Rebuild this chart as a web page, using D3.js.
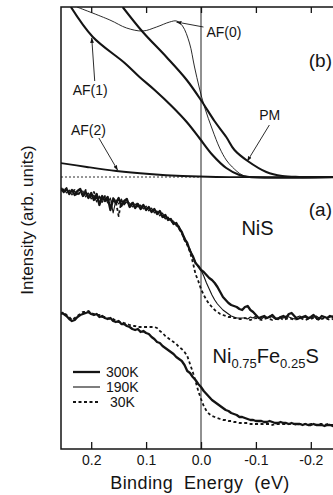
<!DOCTYPE html>
<html>
<head>
<meta charset="utf-8">
<script src="https://cdn.jsdelivr.net/npm/d3@7"></script>
<style>
  body { margin: 0; background: #fff; }
  svg { display: block; font-family: "Liberation Sans", Arial, Helvetica, sans-serif; }
</style>
</head>
<body>
<svg id="chart" width="333" height="495"></svg>
<script>
// energy grid of the measured spectra (eV), 0.255 .. -0.25 in 5 meV steps
const energy = d3.range(102).map(i => +(0.255 - 0.005 * i).toFixed(3));

// NiS spectra (a), arb. units
const nis300 = [261,257,260,255,259,254,258,260,253,257,251,256,249,255,244,253,248,252,239,250,
  246,251,243,248,250,242,246,241,245,240,244,239,242,237,240,235,238,232,234,229,
  230,225,226,221,217,210,206,198,193,186,183,
  179,177,174,171,169,166,162,157,152,149,146,144,143,142,140,139,142,143,139,137,
  134,131,132,133,131,132,134,131,130,132,133,131,135,136,133,130,131,132,133,131,
  132,134,131,130,133,132,131,133,132,131,132];
const nis190 = [258,260,256,259,254,258,255,257,258,252,256,250,254,247,253,249,252,246,251,236,
  249,245,250,244,247,246,242,245,242,244,240,243,238,241,236,238,233,236,230,232,
  228,228,223,223,216,212,204,200,192,187,182,
  179,173,166,160,154,149,145,142,139,137,135,133,132,131,131,131,131,130,132,131,
  133,131,130,132,131,133,132,130,131,132,131,133,132,131,130,132,133,131,132,130,
  131,132,133,131,130,132,131,132,133,131,132];
const nis30 = [260,258,261,256,258,259,253,257,254,259,252,253,257,250,252,247,253,249,243,251,
  247,233,248,245,249,243,247,243,246,241,243,240,241,238,239,236,237,233,231,231,
  228,226,225,220,216,209,204,197,187,175,168,
  160,154,149,145,142,139,137,135,134,133,132,132,131,131,130,130,131,130,129,130,
  131,130,129,130,131,130,129,130,130,131,129,130,131,130,129,130,131,130,129,130,
  130,131,130,129,130,131,130,129,130,131,130];

// Ni0.75Fe0.25S spectra (a)
const fes300 = [136,135,133,130,128,129,132,134,135,136,137,135,134,135,132,133,131,130,131,128,
  127,128,125,125,123,122,120,119,120,117,118,116,115,112,110,107,106,103,101,99,
  97,95,92,90,88,84,78,76,72,69,65,62,58,55,52,49,47,45,43,41,
  39,38,36,35,34,32,32,31,30,29,29,28,28,28,27,27,28,27,26,26,
  27,26,26,25,26,25,25,25,24,25,24,24,25,24,24,24,23,24,24,23,24,24];
const fes30 = [135,137,134,132,129,131,133,135,137,137,138,136,135,134,134,132,132,131,130,130,
  128,127,127,126,125,124,123,123,122,122,122,122,122,122,122,121,118,116,113,111,
  109,107,105,102,100,97,93,85,77,68,58,50,43,38,35,33,32,31,30,29,
  29,28,28,27,27,26,26,26,26,25,25,25,25,25,25,25,25,24,25,25,
  25,25,25,25,25,25,24,25,25,25,24,25,25,24,25,25,24,25,24,24,24,24];

// calculated spectra (b): [energy, intensity]
const af0 = [[0.226,442],[0.166,429],[0.1355,421],[0.106,418],[0.081,422],[0.057,427],[0.0445,428],
  [0.0336,423],[0.021,406],[0.0118,382],[0.003,361],[-0.0064,342],[-0.021,319],[-0.034,301],
  [-0.046,289],[-0.057,282],[-0.075,274],[-0.094,272],[-0.255,272]];
const af1 = [[0.237,442],[0.197,412],[0.139,386],[0.112,372],[0.0845,359],[0.0536,343],[0.026,327],
  [0.003,311],[-0.021,294],[-0.046,281],[-0.070,274],[-0.088,272],[-0.255,272]];
const af2 = [[0.2555,286],[0.208,282],[0.154,278],[0.094,275],[0.034,273],[-0.028,272],[-0.255,272]];
const pm = [[0.1427,442],[0.106,417],[0.063,392],[0.026,369],[-0.001,348],[-0.0245,328],[-0.046,312],
  [-0.061,299],[-0.085,288],[-0.119,277],[-0.148,273],[-0.179,272],[-0.255,272]];
const baselineB = 272;

const xTicks = [0.2, 0.1, 0.0, -0.1, -0.2];
const legendLabels = ['300K', '190K', '30K'];

const svg = d3.select('#chart');
const margin = {top: 7, left: 61, bottom: 46};
const height = +svg.attr('height');

const x = d3.scaleLinear().domain([0.255, -0.255]).range([61, 341]);
const y = d3.scaleLinear().domain([0, 442]).range([height - margin.bottom, margin.top]);

svg.append('rect').attr('width', 333).attr('height', 495).attr('fill', '#fff');

svg.append('clipPath').attr('id', 'plotclip')
  .append('rect').attr('x', x(0.255)).attr('y', y(442)).attr('width', x(-0.255) - x(0.255)).attr('height', y(0) - y(442));

const plot = svg.append('g').attr('clip-path', 'url(#plotclip)');

// zero line
plot.append('line')
  .attr('x1', x(0)).attr('x2', x(0)).attr('y1', y(0)).attr('y2', y(442))
  .attr('stroke', '#222').attr('stroke-width', 1);

const ink = '#141414';
const noisy = d3.line().x((d, i) => x(energy[i])).y(d => y(d));
const smooth = d3.line().x(d => x(d[0])).y(d => y(d[1])).curve(d3.curveCatmullRom.alpha(0.5));

// (b) baseline
plot.append('line')
  .attr('x1', x(0.255)).attr('x2', x(0)).attr('y1', y(baselineB)).attr('y2', y(baselineB))
  .attr('stroke', ink).attr('stroke-width', 0.9).attr('stroke-dasharray', '2,2');

[[af0, 0.9], [af2, 1.8], [af1, 2.1], [pm, 2.1]].forEach(([d, w]) => {
  plot.append('path').attr('d', smooth(d)).attr('fill', 'none')
    .attr('stroke', ink).attr('stroke-width', w).attr('stroke-linejoin', 'round');
});

// (a) spectra
const styles = {
  '300K': {w: 2.3, dash: null},
  '190K': {w: 1.1, dash: null},
  '30K': {w: 1.8, dash: '3,2.5'}
};
[[nis190, '190K'], [nis30, '30K'], [nis300, '300K'], [fes30, '30K'], [fes300, '300K']].forEach(([d, k]) => {
  plot.append('path').attr('d', noisy(d)).attr('fill', 'none')
    .attr('stroke', ink).attr('stroke-width', styles[k].w)
    .attr('stroke-dasharray', styles[k].dash).attr('stroke-linejoin', 'round');
});

// frame and axes
svg.append('rect')
  .attr('x', x(0.255)).attr('y', y(442)).attr('width', x(-0.255) - x(0.255)).attr('height', y(0) - y(442))
  .attr('fill', 'none').attr('stroke', ink).attr('stroke-width', 1.5);

const xAxis = svg.append('g')
  .attr('transform', `translate(0,${y(0)})`)
  .call(d3.axisBottom(x).tickValues(xTicks).tickSizeInner(-7).tickSizeOuter(0).tickPadding(6)
    .tickFormat(d => d.toFixed(1)));
xAxis.select('.domain').remove();
xAxis.selectAll('.tick line').attr('stroke', ink).attr('stroke-width', 1.3);
xAxis.selectAll('.tick text').attr('font-size', 14).attr('fill', ink)
  .attr('font-family', '"Liberation Sans", Arial, sans-serif');

const topAxis = svg.append('g')
  .attr('transform', `translate(0,${y(442)})`)
  .call(d3.axisTop(x).tickValues(xTicks).tickSizeInner(-6).tickSizeOuter(0).tickFormat(''));
topAxis.select('.domain').remove();
topAxis.selectAll('.tick line').attr('stroke', ink).attr('stroke-width', 1.3);

svg.append('text')
  .attr('x', 200).attr('y', 489).attr('text-anchor', 'middle')
  .attr('font-size', 18).attr('letter-spacing', 0.4).attr('fill', ink)
  .attr('xml:space', 'preserve')
  .text('Binding  Energy  (eV)');

svg.append('text')
  .attr('transform', 'translate(33,220) rotate(-90)')
  .attr('text-anchor', 'middle').attr('font-size', 17).attr('fill', ink)
  .text('Intensity (arb. units)');

// annotations (b)
svg.append('defs').append('marker')
  .attr('id', 'arrow').attr('viewBox', '0 0 10 10').attr('refX', 9).attr('refY', 5)
  .attr('markerWidth', 6).attr('markerHeight', 6).attr('orient', 'auto')
  .append('path').attr('d', 'M0,1.5L10,5L0,8.5Z').attr('fill', ink);

const notes = [
  {t: 'AF(0)', tx: -0.010, ty: 412, fx: -0.0045, fy: 422, ax: 0.0445, ay: 427},
  {t: 'AF(1)', tx: 0.2336, ty: 354, fx: 0.1936, fy: 368, ax: 0.199, ay: 411},
  {t: 'AF(2)', tx: 0.237, ty: 314, fx: 0.186, fy: 311, ax: 0.152, ay: 279},
  {t: 'PM', tx: -0.106, ty: 329, fx: -0.1245, fy: 324, ax: -0.0845, ay: 288}
];
notes.forEach(n => {
  svg.append('line')
    .attr('x1', x(n.fx)).attr('y1', y(n.fy)).attr('x2', x(n.ax)).attr('y2', y(n.ay))
    .attr('stroke', ink).attr('stroke-width', 0.9).attr('marker-end', 'url(#arrow)');
  svg.append('text').attr('x', x(n.tx)).attr('y', y(n.ty))
    .attr('font-size', 14).attr('fill', ink).text(n.t);
});

svg.append('text').attr('x', 332).attr('y', y(382)).attr('font-size', 19).attr('fill', ink)
  .attr('text-anchor', 'end').text('(b)');
svg.append('text').attr('x', 332).attr('y', y(233)).attr('font-size', 19).attr('fill', ink)
  .attr('text-anchor', 'end').text('(a)');
svg.append('text').attr('x', x(-0.103)).attr('y', y(214)).attr('font-size', 20).attr('fill', ink)
  .attr('text-anchor', 'middle').text('NiS');

const fe = svg.append('text').attr('x', x(-0.021)).attr('y', y(86)).attr('font-size', 20).attr('fill', ink);
fe.append('tspan').text('Ni');
fe.append('tspan').attr('font-size', 13).attr('dy', 5).text('0.75');
fe.append('tspan').attr('dy', -5).text('Fe');
fe.append('tspan').attr('font-size', 13).attr('dy', 5).text('0.25');
fe.append('tspan').attr('dy', -5).text('S');

// legend
const lg = svg.append('g');
legendLabels.forEach((k, i) => {
  const ly = 372 + i * 15;
  lg.append('line').attr('x1', 73).attr('x2', 100).attr('y1', ly).attr('y2', ly)
    .attr('stroke', ink).attr('stroke-width', styles[k].w).attr('stroke-dasharray', styles[k].dash);
  lg.append('text').attr('x', k === '30K' ? 110 : 106).attr('y', ly + 5)
    .attr('font-size', 14).attr('fill', ink).text(k);
});
</script>
</body>
</html>
